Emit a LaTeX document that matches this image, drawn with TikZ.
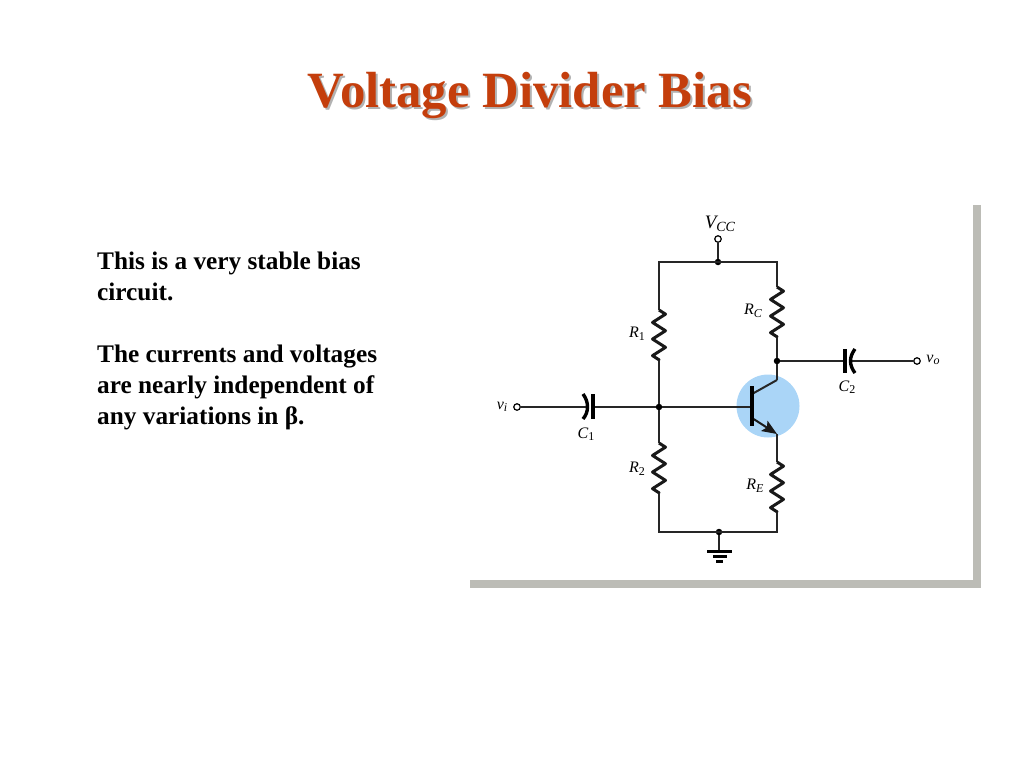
\documentclass[tikz,border=0pt]{standalone}
\usepackage{fontspec}
\setmainfont{Liberation Serif}
\usetikzlibrary{decorations.pathmorphing,arrows.meta}
\definecolor{titlered}{RGB}{196,62,12}
\definecolor{framegray}{RGB}{188,188,182}
\definecolor{bulbblue}{RGB}{170,213,247}
\newcommand{\shadowed}[3]{\rlap{\color{#1}\hspace{#2}\raisebox{-#2}{#3}}#3}
\newcommand{\lab}[2]{\textit{#1}\raisebox{-.35ex}{\fontsize{12}{12}\selectfont #2}}
\tikzset{
  wire/.style={line width=1.5pt,black!85},
  res/.style={line width=3pt,black!90,line join=round,decorate,decoration={zigzag,segment length=16.6pt,amplitude=6.5pt}},
  plate/.style={line width=3.4pt,black},
  term/.style={circle,draw,line width=1.2pt,fill=white,inner sep=0pt,minimum size=6.5pt},
  dotnode/.style={circle,fill=black,inner sep=0pt,minimum size=6.5pt},
  lbl/.style={font=\fontsize{16}{16}\selectfont,inner sep=0pt},
}
\begin{document}
\begin{tikzpicture}[x=1pt,y=-1pt]
\useasboundingbox (0,0) rectangle (1024,768);
% frame
\fill [framegray] (973,205) rectangle (981,588);
\fill [framegray] (470,580) rectangle (981,588);
% title and text
\node (title) [font=\fontsize{50.8}{50.8}\bfseries\selectfont,text=titlered] at (530,96) {\shadowed{black!30}{2pt}{Voltage Divider Bias}};
\node (body) [anchor=north west,align=left,inner sep=0pt,font=\fontsize{25.3}{31}\bfseries\selectfont] at (97,252) {This is a very stable bias\\
circuit.\\[31pt]
The currents and voltages\\
are nearly independent of\\
any variations in β.};
% transistor
\node (bulb) [circle,fill=bulbblue,inner sep=0pt,minimum size=63pt] at (768,406) {};
\coordinate (topleft) at (659,262);
\coordinate (topright) at (777,262);
\coordinate (botleft) at (659,532);
\coordinate (botright) at (777,532);
\node (vcctop) [dotnode] at (718,262) {};
\node (vcc) [term] at (718,239) {};
\node (gnd) [dotnode] at (719,532) {};
\coordinate (gndbar) at (719,551);
\node (basejn) [dotnode] at (659,407) {};
\node (coljn) [dotnode] at (777,361) {};
\node (vi) [term] at (517,407) {};
\node (vo) [term] at (917,361) {};
\coordinate (r1a) at (659,310);
\coordinate (r1b) at (659,360);
\coordinate (r2a) at (659,443);
\coordinate (r2b) at (659,493);
\coordinate (rca) at (777,287);
\coordinate (rcb) at (777,337);
\coordinate (rea) at (777,462);
\coordinate (reb) at (777,512);
\coordinate (c1a) at (587,407);
\coordinate (c1b) at (593,407);
\coordinate (c2a) at (845,361);
\coordinate (c2b) at (851,361);
\coordinate (base) at (752,407);
\coordinate (colin) at (752,394);
\coordinate (colout) at (777,380);
\coordinate (emin) at (752,418);
\coordinate (emout) at (777,434);
% wires
\draw [wire] (vcc) -- (vcctop);
\draw [wire] (r1a) -- (topleft) -- (topright) -- (rca);
\draw [wire] (r1b) -- (basejn) -- (r2a);
\draw [wire] (r2b) -- (botleft) -- (botright) -- (reb);
\draw [wire] (rcb) -- (coljn) -- (colout);
\draw [wire,line width=2pt] (colout) -- (colin);
\draw [wire] (vi) -- (c1a);
\draw [wire] (c1b) -- (basejn) -- (base);
\draw [wire] (coljn) -- (c2a);
\draw [wire] (c2b) -- (vo);
\draw [wire] (gnd) -- (gndbar);
\draw [wire] (emout) -- (rea);
\draw [line width=2pt,black!90,-{Stealth[length=15pt,width=12pt,inset=3pt]}] (emin) -- (emout);
% resistors
\draw [res] (r1a) -- (r1b);
\draw [res] (r2a) -- (r2b);
\draw [res] (rca) -- (rcb);
\draw [res] (rea) -- (reb);
% capacitors
\draw [plate] (593,394) -- (593,419);
\draw [plate] (583,394) .. controls (589,402) and (589,412) .. (583,419);
\draw [plate] (845,349) -- (845,373);
\draw [plate] (855,349) .. controls (849,357) and (849,365) .. (855,373);
% transistor base bar
\draw [line width=4.5pt] (752,386) -- (752,426);
% ground
\draw [line width=3pt] (707,551) -- (732,551);
\draw [line width=3pt] (713,556.5) -- (727,556.5);
\draw [line width=3pt] (716,561.5) -- (723,561.5);
% labels
\node (lvcc) [lbl] at (720,224) {\fontsize{19}{19}\selectfont\textit{V}\hspace{-2pt}\raisebox{-.35ex}{\fontsize{14}{14}\selectfont\textit{CC}}};
\node (lr1) [lbl] at (637,334) {\lab{R}{1}};
\node (lr2) [lbl] at (637,469) {\lab{R}{2}};
\node (lrc) [lbl] at (753,311) {\lab{R}{\textit{C}}};
\node (lre) [lbl] at (755,486) {\lab{R}{\textit{E}}};
\node (lc1) [lbl] at (586,434) {\lab{C}{1}};
\node (lc2) [lbl] at (847,387) {\lab{C}{2}};
\node (lvi) [lbl] at (502,407) {\lab{v}{\textit{i}}};
\node (lvo) [lbl] at (933,360) {\lab{v}{\textit{o}}};
\end{tikzpicture}
\end{document}
